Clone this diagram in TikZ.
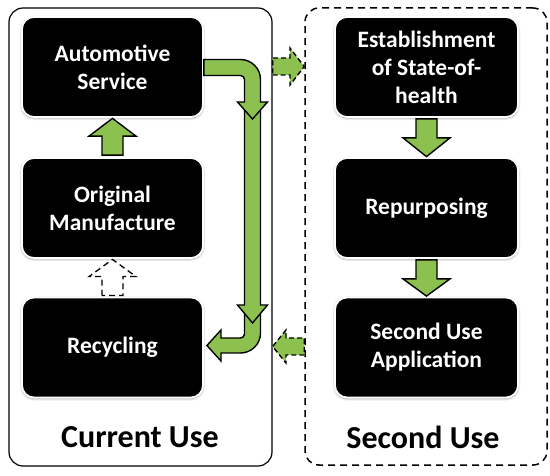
\documentclass[tikz,border=0pt]{standalone}
\usepackage{fontspec}
\setmainfont{Carlito}
\usepackage{tikz}
\usetikzlibrary{calc, shadows.blur}
\definecolor{leafgreen}{HTML}{8DC14F}

\begin{document}
\begin{tikzpicture}[x=1pt, y=1pt,
      stage/.style={fill=black, draw=white, line width=1.8pt, rounded corners=12pt,
                    minimum width=181pt, minimum height=100pt,
                    text=white, font=\fontsize{23.5}{28}\selectfont\bfseries, align=center,
                    blur shadow={shadow xshift=0pt, shadow yshift=-1pt,
                                 shadow blur radius=2.5pt, shadow opacity=45}},
      group/.style={draw=black, line width=1.2pt, rounded corners=14pt,
                    minimum width=263pt, minimum height=458pt},
      grouplab/.style={font=\fontsize{32}{38}\selectfont\bfseries},
      fat/.style={fill=leafgreen, draw=black, line width=1.4pt, line join=miter},
      fatdash/.style={fat, dash pattern=on 5pt off 3pt},
      ghost/.style={fill=white, draw=black, line width=1.3pt, dash pattern=on 6pt off 4pt}
    ]
    \useasboundingbox (0,0) rectangle (550,475);
    \node[group] (cur) at (140.5,238) {};
    \node[group, dash pattern=on 7pt off 5pt, line width=1.5pt,
          minimum width=242pt, minimum height=457pt] (sec) at (426,238.5) {};
    \node[stage] (auto)   at (112.5,408)   {Automotive\\Service};
    \node[stage] (orig)   at (112.5,267)   {Original\\Manufacture};
    \node[stage] (recyc)  at (112.5,127.5) {Recycling};
    \node[stage, minimum width=183pt] (soh)    at (426.5,408)   {Establishment\\of State-of-\\health};
    \node[stage, minimum width=183pt] (repurp) at (426.5,267)   {Repurposing};
    \node[stage, minimum width=183pt] (app)    at (426.5,127.5) {Second Use\\Application};
    \node[grouplab] (curlab) at (140,38) {Current Use};
    \node[grouplab] (seclab) at (423,38) {Second Use};
    \coordinate (turnA) at (252.5,356);
    \coordinate (turnB) at (252.5,152);
    \draw[fat] ($(orig.north)+(-10.5,2)$) -- ++(0,19) -- ++(-13,0) -- ($(auto.south)+(0,-0.5)$)
          -- ($(orig.north)+(23.5,21)$) -- ++(-13,0) -- ++(0,-19) -- cycle;
    \draw[ghost] ($(recyc.north)+(-10.5,1)$) -- ++(0,19) -- ++(-13,0) -- ($(orig.south)+(0,-0.5)$)
          -- ($(recyc.north)+(23.5,20)$) -- ++(-13,0) -- ++(0,-19) -- cycle;
    \draw[fat] ($(soh.south)+(-10.5,-1)$) -- ++(0,-19) -- ++(-13,0) -- ($(repurp.north)+(0,0.5)$)
          -- ($(soh.south)+(23.5,-20)$) -- ++(-13,0) -- ++(0,19) -- cycle;
    \draw[fat] ($(repurp.south)+(-10.5,-1)$) -- ++(0,-19) -- ++(-13,0) -- ($(app.north)+(0,0.5)$)
          -- ($(repurp.south)+(23.5,-20)$) -- ++(-13,0) -- ++(0,19) -- cycle;
    \draw[fat] (244.5,162) -- (260.5,162) -- (260.5,142) arc[start angle=0, end angle=-90, radius=20]
          -- (221,122) -- (221,114) -- ($(recyc.east)+(3,2)$) -- (221,145) -- (221,137) -- (240.5,137)
          arc[start angle=-90, end angle=0, radius=4] -- cycle;
    \draw[fat] (244.5,368) -- (244.5,170) -- (237.5,170) -- (turnB) -- (267.5,170)
          -- (260.5,170) -- (260.5,368) -- cycle;
    \draw[fat] (auto.east |- 0,415.5) -- (240.5,415.5) arc[start angle=90, end angle=0, radius=20]
          -- (260.5,373) -- (267.5,373) -- (turnA) -- (237.5,373) -- (244.5,373) -- (244.5,395.5)
          arc[start angle=0, end angle=90, radius=4] -- (auto.east |- 0,399.5) -- cycle;
    \draw[fatdash] (cur.east |- 0,400) -- (290,400) -- (290,390) -- (sec.west |- 0,408.5)
          -- (290,427) -- (290,417) -- (cur.east |- 0,417) -- cycle;
    \draw[fatdash] (sec.west |- 0,120) -- (286,120) -- (286,112) -- (cur.east |- 0,128.5)
          -- (286,145) -- (286,137) -- (sec.west |- 0,137) -- cycle;
  \end{tikzpicture}
\end{document}
